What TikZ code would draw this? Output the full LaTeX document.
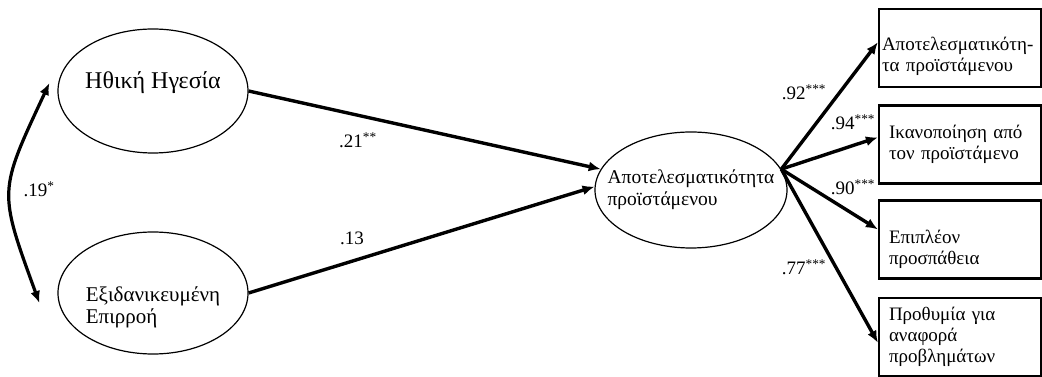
\documentclass[tikz,border=0pt]{standalone}
\usepackage{fontspec}
\setmainfont{Liberation Serif}
\usetikzlibrary{shapes,arrows.meta,positioning,calc}

\begin{document}
\begin{tikzpicture}[x=1pt, y=1pt,
    latente/.style={ellipse, draw, line width=1.2pt, inner ysep=0pt, align=left},
    indicatore/.style={rectangle, draw, line width=2.2pt, minimum width=162pt, minimum height=78pt,
        text width=142pt, inner xsep=10pt, align=left, font=\fontsize{19}{21}\selectfont},
    freccia/.style={line width=3.4pt, -{Latex[length=12pt,width=10pt]}},
    coeff/.style={font=\fontsize{19}{22}\selectfont}]
    \useasboundingbox (0,0) rectangle (1042,377);

    % Variabili latenti esogene
    \node[latente, minimum width=190pt, minimum height=124pt, inner xsep=-3pt,
        font=\fontsize{24}{26}\selectfont] (etica) at (153,286)
        {Ηθική Ηγεσία\rule[-21pt]{0pt}{21pt}};
    \node[latente, minimum width=190pt, minimum height=122pt, inner xsep=-9pt,
        font=\fontsize{21}{22}\selectfont] (idealizzata) at (153,84)
        {\rule{0pt}{44pt}Εξιδανικευμένη\\Επιρροή};

    % Variabile latente endogena
    \node[latente, minimum width=192pt, minimum height=116pt, inner xsep=-22pt,
        font=\fontsize{19.5}{22}\selectfont] (efficacia) at (691,187)
        {Αποτελεσματικότητα\\προϊστάμενου};
    \coordinate (snodo) at (efficacia.13);

    % Indicatori
    \node[indicatore, text width=156pt, inner xsep=3pt] (ind1) at (960,329)
        {\rule{0pt}{30pt}Αποτελεσματικότη\mbox{-}\\τα προϊστάμενου};
    \node[indicatore] (ind2) at (960,232.5) {Ικανοποίηση από\\τον προϊστάμενο};
    \node[indicatore] (ind3) at (960,137.5)
        {\rule{0pt}{34pt}Επιπλέον\\προσπάθεια};
    \node[indicatore] (ind4) at (960,40) {Προθυμία για\\αναφορά\\προβλημάτων};

    % Covarianza
    \draw[line width=3.2pt, {Latex[length=12pt,width=10pt]}-{Latex[length=12pt,width=10pt]}]
        ([shift={(-8,8)}]etica.west) to[out=245, in=110, looseness=1.4]
        ([shift={(-18,-10)}]idealizzata.west);
    \node[coeff] (c19) at (39,188) {.19\textsuperscript{*}};

    % Percorsi strutturali
    \draw[freccia] (etica.east) -- (efficacia.167);
    \draw[freccia] (idealizzata.east) -- (efficacia.178);
    \node[coeff] (c21) at (358,237) {.21\textsuperscript{**}};
    \node[coeff] (c13) at (352,139) {.13};

    % Saturazioni
    \draw[freccia] (snodo) -- (ind1.176);
    \draw[freccia] (snodo) -- (ind2.175);
    \draw[freccia] (snodo) -- (ind3.173);
    \draw[freccia] (snodo) -- (ind4.184);
    \node[coeff] (c92) at (804,285) {.92\textsuperscript{***}};
    \node[coeff] (c94) at (853,255) {.94\textsuperscript{***}};
    \node[coeff] (c90) at (853,190) {.90\textsuperscript{***}};
    \node[coeff] (c77) at (804,110) {.77\textsuperscript{***}};
\end{tikzpicture}
\end{document}
